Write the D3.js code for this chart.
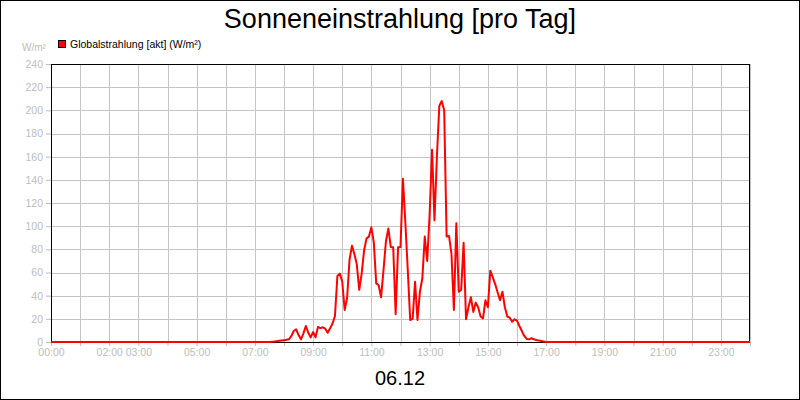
<!DOCTYPE html>
<html><head><meta charset="utf-8">
<script src="https://cdn.jsdelivr.net/npm/d3@7"></script>
<style>
html,body{margin:0;padding:0;background:#fff;}
svg text{font-family:"Liberation Sans",Arial,sans-serif;}
</style></head>
<body>
<svg id="chart" width="800" height="400"></svg>
<script>
const title = "Sonneneinstrahlung [pro Tag]";
const dateLabel = "06.12";
const seriesName = "Globalstrahlung [akt] (W/m²)";
const unitLabel = "W/m²";
const yTicks = [0,20,40,60,80,100,120,140,160,180,200,220,240];
const xTickHours = [0,1,2,3,4,5,6,7,8,9,10,11,12,13,14,15,16,17,18,19,20,21,22,23,24];
const xTickLabels = ["00:00","02:00","03:00","05:00","07:00","09:00","11:00","13:00","15:00","17:00","19:00","21:00","23:00"];

const times = ["00:00",
"07:00","07:05","07:10","07:15","07:20","07:25","07:30","07:35","07:40","07:45","07:50","07:55",
"08:00","08:05","08:10","08:15","08:20","08:25","08:30","08:35","08:40","08:45","08:50","08:55",
"09:00","09:05","09:10","09:15","09:20","09:25","09:30","09:35","09:40","09:45","09:50","09:55",
"10:00","10:05","10:10","10:15","10:20","10:25","10:30","10:35","10:40","10:45","10:50","10:55",
"11:00","11:05","11:10","11:15","11:20","11:25","11:30","11:35","11:40","11:45","11:50","11:55",
"12:00","12:05","12:10","12:15","12:20","12:25","12:30","12:35","12:40","12:45","12:50","12:55",
"13:00","13:05","13:10","13:15","13:20","13:25","13:30","13:35","13:40","13:45","13:50","13:55",
"14:00","14:05","14:10","14:15","14:20","14:25","14:30","14:35","14:40","14:45","14:50","14:55",
"15:00","15:05","15:10","15:15","15:20","15:25","15:30","15:35","15:40","15:45","15:50","15:55",
"16:00","16:05","16:10","16:15","16:20","16:25","16:30","16:35","16:40","16:45","16:50","16:55",
"17:00","24:00"];
const values = [0,
0,0,0,0,0,0,0,0.2,0.4,0.7,1.0,1.3,
1.6,1.9,2.3,5,9.5,11,6,2.3,7.5,13.8,8,4,
8.6,4,13,12,12.7,11.5,8,11.8,16,22.4,57,59,
52,27.6,38,71,83,76,67,45,59,79,89.5,91,
99,86,50.6,49,38.6,62,87,98,82,81.7,24,81.7,
82,141,103,62,19,20,52,19,43.4,55,91,70,
110,166,105,160,204,208,200,91,91.5,76,27.6,102.5,
43.4,45,85.7,19.6,30,38.6,26,34,30,22,20.4,36,
30,61.6,56,50,43,36,43.4,30,22,21,17.5,19.6,
18.4,13.8,9.5,5.2,2.6,2.3,3.2,2.3,1.7,1.2,0.9,0.5,
0,0];

const toMin = s => { const [h,m] = s.split(":").map(Number); return h*60+m; };
const data = times.map((t,i)=>({t:toMin(t), v:values[i]}));

const svg = d3.select("#chart");
const L = 51, R = 750, T = 64, B = 342;
const x = d3.scaleLinear().domain([0,1440]).range([L,R]);
const y = d3.scaleLinear().domain([0,240]).range([B,T]);
const grey = "#bdbdbd", gridC = "#c4c4c4";

// outer frame
svg.append("rect").attr("x",0.5).attr("y",0.5).attr("width",799).attr("height",399)
  .attr("fill","#fff").attr("stroke","#000").attr("stroke-width",1);

// title
svg.append("text").attr("x",400).attr("y",28).attr("text-anchor","middle")
  .attr("font-size",27).attr("fill","#000").text(title);

// legend
svg.append("rect").attr("x",58.5).attr("y",40.5).attr("width",7).attr("height",7)
  .attr("fill","#ff0000").attr("stroke","#000").attr("stroke-width",1);
svg.append("text").attr("x",70).attr("y",48).attr("font-size",10.5).attr("fill","#000").text(seriesName);
svg.append("text").attr("x",22).attr("y",51).attr("font-size",10).attr("fill",grey).text(unitLabel);

// grid
const g = svg.append("g");
g.selectAll("line.hg").data(yTicks).join("line")
  .attr("x1",L).attr("x2",R).attr("y1",d=>Math.round(y(d))+0.5).attr("y2",d=>Math.round(y(d))+0.5)
  .attr("stroke",gridC).attr("stroke-width",1);
g.selectAll("line.vg").data(xTickHours).join("line")
  .attr("y1",T).attr("y2",B).attr("x1",d=>Math.round(x(d*60))+0.5).attr("x2",d=>Math.round(x(d*60))+0.5)
  .attr("stroke",gridC).attr("stroke-width",1);

// axes
const xAxis = d3.axisBottom(x).tickValues(xTickHours.map(h=>h*60)).tickSize(4).tickPadding(3)
  .tickFormat(d=>{ const lab = String(d/60).padStart(2,"0")+":00"; return xTickLabels.includes(lab)?lab:""; });
const gx = svg.append("g").attr("transform",`translate(0,${B})`).call(xAxis);
gx.select(".domain").remove();
gx.selectAll(".tick line").attr("stroke",grey);
gx.selectAll(".tick text").attr("fill",grey).attr("font-size",10.5).attr("font-family","Liberation Sans, Arial, sans-serif");

const yAxis = d3.axisLeft(y).tickValues(yTicks).tickSize(5).tickPadding(3);
const gy = svg.append("g").attr("transform",`translate(${L},0)`).call(yAxis);
gy.select(".domain").remove();
gy.selectAll(".tick line").attr("stroke",grey);
gy.selectAll(".tick text").attr("fill",grey).attr("font-size",10.5).attr("font-family","Liberation Sans, Arial, sans-serif");

// plot border
svg.append("rect").attr("x",L+0.5).attr("y",T+0.5).attr("width",R-L-1).attr("height",B-T)
  .attr("fill","none").attr("stroke","#000").attr("stroke-width",1);

// line
const line = d3.line().x(d=>x(d.t)).y(d=>y(d.v));
svg.append("path").datum(data).attr("d",line).attr("fill","none")
  .attr("stroke","#ff0000").attr("stroke-width",2).attr("stroke-linejoin","round");

// date label
svg.append("text").attr("x",400).attr("y",385).attr("text-anchor","middle")
  .attr("font-size",20).attr("fill","#000").text(dateLabel);
</script>
</body></html>
